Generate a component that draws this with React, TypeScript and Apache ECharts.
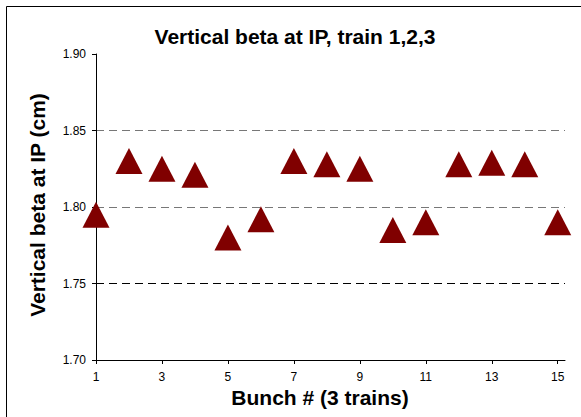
import React, { useEffect, useRef } from "react";
import * as echarts from "echarts";

const bunches = [1, 2, 3, 4, 5, 6, 7, 8, 9, 10, 11, 12, 13, 14, 15];
const betaY = [1.795, 1.830, 1.825, 1.821, 1.780, 1.792, 1.830, 1.828, 1.825, 1.785, 1.790, 1.828, 1.829, 1.828, 1.790];
const xTickValues = [1, 3, 5, 7, 9, 11, 13, 15];
const titleText = "Vertical beta at IP, train 1,2,3";
const xTitle = "Bunch # (3 trains)";
const yTitle = "Vertical beta at IP (cm)";

const FONT = "'Liberation Sans', Arial, sans-serif";

export default function App() {
  const ref = useRef<HTMLDivElement>(null);
  useEffect(() => {
    if (!ref.current) return;
    const chart = echarts.init(ref.current, null, { renderer: "svg" });
    chart.setOption({
      animation: false,
      backgroundColor: "#ffffff",
      textStyle: { fontFamily: FONT },
      grid: { left: 96, right: 16, top: 54, bottom: 57 },
      xAxis: {
        type: "value",
        min: 1,
        max: 15.22,
        axisLine: { show: true, lineStyle: { color: "#000", width: 1 } },
        axisTick: { show: true, length: 4, lineStyle: { color: "#000" }, customValues: xTickValues },
        axisLabel: { customValues: xTickValues, color: "#000", fontSize: 12, margin: 11, fontFamily: FONT },
        splitLine: { show: false },
      },
      yAxis: {
        type: "value",
        min: 1.7,
        max: 1.9,
        interval: 0.05,
        axisLine: { show: true, lineStyle: { color: "#000", width: 1 } },
        axisTick: { show: true, length: 4, lineStyle: { color: "#000" } },
        axisLabel: {
          color: "#000",
          fontSize: 12,
          margin: 10,
          fontFamily: FONT,
          formatter: (v: number) => v.toFixed(2),
        },
        splitLine: {
          show: true,
          showMinLine: false,
          showMaxLine: false,
          lineStyle: { color: ["#000", "#777", "#777"], type: [8, 5], width: 1 },
        },
      },
      graphic: [
        {
          type: "rect",
          shape: { x: 6.5, y: 6.5, width: 700, height: 700 },
          style: { fill: "none", stroke: "#000", lineWidth: 1 },
          silent: true,
        },
        {
          type: "text",
          x: 295,
          y: 36,
          style: { text: titleText, font: `bold 21px ${FONT}`, fill: "#000", textAlign: "center", textVerticalAlign: "middle" },
        },
        {
          type: "text",
          x: 320,
          y: 397,
          style: { text: xTitle, font: `bold 21px ${FONT}`, fill: "#000", textAlign: "center", textVerticalAlign: "middle" },
        },
        {
          type: "text",
          x: 37.5,
          y: 205,
          rotation: Math.PI / 2,
          style: { text: yTitle, font: `bold 21px ${FONT}`, fill: "#000", textAlign: "center", textVerticalAlign: "middle" },
        },
      ],
      series: [
        {
          type: "scatter",
          data: bunches.map((b, i) => [b, betaY[i]]),
          symbol: "triangle",
          symbolSize: [27, 26],
          itemStyle: { color: "#800000", opacity: 1 },
          clip: false,
          z: 5,
        },
      ],
    });
    return () => chart.dispose();
  }, []);
  return <div ref={ref} style={{ position: "absolute", left: 0, top: 0, width: 581, height: 417 }} />;
}
